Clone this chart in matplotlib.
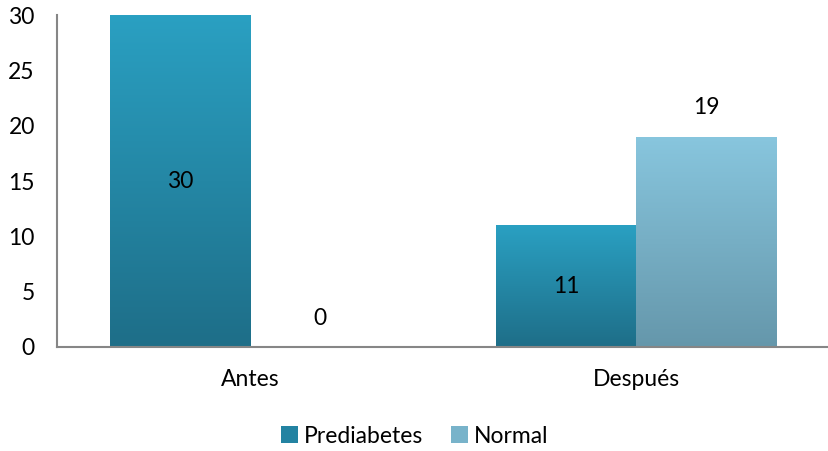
import numpy as np
import matplotlib.pyplot as plt
from matplotlib.colors import LinearSegmentedColormap
from matplotlib.patches import Rectangle

categorias = ['Antes', 'Después']
prediabetes = [30, 11]
normal = [0, 19]
series = ['Prediabetes', 'Normal']

# gradient colours (top, bottom) for each series
grad_pre = ('#2aa0c2', '#1e6e88')
grad_nor = ('#88c6de', '#6597ab')

plt.rcParams['font.family'] = ['Lato', 'DejaVu Sans']

fig = plt.figure(figsize=(8.29, 4.51), dpi=100)
ax = fig.add_axes([0.0688, 0.2306, 0.9312, 0.7361])

x = np.arange(len(categorias))
w = 0.363
fs = 16.5


def gradient_bars(ax, xs, vals, colors):
    cmap = LinearSegmentedColormap.from_list('g', [colors[1], colors[0]])
    bars = ax.bar(xs, vals, w, color='none', edgecolor='none')
    for b in bars:
        h = b.get_height()
        if h <= 0:
            continue
        grad = np.linspace(0, 1, 256).reshape(-1, 1)
        im = ax.imshow(grad, cmap=cmap, origin='lower', aspect='auto',
                       extent=[b.get_x(), b.get_x() + b.get_width(), 0, h],
                       zorder=2)
        im.set_clip_path(b)
    return bars


b1 = gradient_bars(ax, x - w / 2, prediabetes, grad_pre)
b2 = gradient_bars(ax, x + w / 2, normal, grad_nor)

for b, v in zip(b1, prediabetes):
    ax.text(b.get_x() + b.get_width() / 2, v / 2, str(v), ha='center',
            va='center', fontsize=fs, color='black', zorder=3)
for b, v in zip(b2, normal):
    ax.text(b.get_x() + b.get_width() / 2, v + 2.6, str(v), ha='center',
            va='center', fontsize=fs, color='black', zorder=3)

ax.set_xlim(-0.5, 1.5)
ax.set_ylim(0, 30)
ax.set_yticks(range(0, 31, 5))
ax.set_xticks(x)
ax.set_xticklabels(categorias)
ax.tick_params(axis='both', length=0, labelsize=fs)
ax.tick_params(axis='y', pad=16)
ax.tick_params(axis='x', pad=16)
for lbl in ax.get_yticklabels():
    lbl.set_horizontalalignment('right')

for s in ['top', 'right']:
    ax.spines[s].set_visible(False)
for s in ['left', 'bottom']:
    ax.spines[s].set_color('#868686')
    ax.spines[s].set_linewidth(1.5)

handles = [Rectangle((0, 0), 1, 1, facecolor='#2383a2'),
           Rectangle((0, 0), 1, 1, facecolor='#78b3ca')]
fig.legend(handles, series, loc='center', bbox_to_anchor=(0.5, 0.033),
           ncol=2, frameon=False, fontsize=fs, handlelength=0.75,
           handleheight=0.75, handletextpad=0.25, columnspacing=1.2)

fig.savefig('out.png', dpi=100)
